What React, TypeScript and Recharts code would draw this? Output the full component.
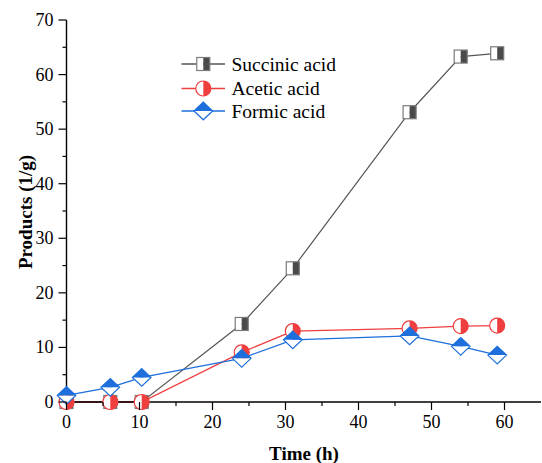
import React from 'react';
import { LineChart, Line, XAxis, YAxis, Legend } from 'recharts';

// ---- data ----
const timeH = [0, 6, 10.3, 24, 31, 47, 54, 59];
const succinicAcid = [0, 0, 0, 14.3, 24.5, 53.1, 63.3, 63.9];
const aceticAcid = [0, 0, 0, 9.1, 13.0, 13.5, 13.9, 14.0];
const formicAcid = [1.2, 2.7, 4.5, 8.0, 11.4, 12.1, 10.2, 8.6];

const xTicks = [0, 5, 10, 15, 20, 25, 30, 35, 40, 45, 50, 55, 60];
const yTicks = [0, 5, 10, 15, 20, 25, 30, 35, 40, 45, 50, 55, 60, 65, 70];
const mirrorTicks = [1, 2, 3, 4, 5, 6, 7, 8, 9];

const seriesNames = ['Succinic acid', 'Acetic acid', 'Formic acid'];

const succData = timeH.map((x, i) => ({ x, y: succinicAcid[i] }));
const aceData = timeH.map((x, i) => ({ x, y: aceticAcid[i] }));
const forData = timeH.map((x, i) => ({ x, y: formicAcid[i] }));

// ---- styles ----
const FONT = '"Liberation Serif", "Times New Roman", serif';
const AX = '#000';
const GRAY_LINE = '#555555';
const GRAY_FILL = '#4a4a4a';
const GRAY_EDGE = '#7a7a7a';
const RED = '#ef3e3e';
const BLUE = '#1e6fdc';

function SquareMark({ cx, cy }: { cx: number; cy: number }) {
  const s = 13;
  return (
    <g>
      <rect x={cx - s / 2} y={cy - s / 2} width={s / 2} height={s} fill="#fff" />
      <rect x={cx} y={cy - s / 2} width={s / 2} height={s} fill={GRAY_FILL} />
      <rect x={cx - s / 2} y={cy - s / 2} width={s} height={s} fill="none" stroke={GRAY_EDGE} strokeWidth={1.2} />
    </g>
  );
}

function CircleMark({ cx, cy }: { cx: number; cy: number }) {
  const r = 7.5;
  return (
    <g>
      <circle cx={cx} cy={cy} r={r} fill="#fff" />
      <path d={`M ${cx} ${cy - r} A ${r} ${r} 0 0 1 ${cx} ${cy + r} Z`} fill={RED} />
      <circle cx={cx} cy={cy} r={r} fill="none" stroke={RED} strokeWidth={1.2} />
    </g>
  );
}

function DiamondMark({ cx, cy }: { cx: number; cy: number }) {
  const w = 9.3;
  const h = 8.8;
  return (
    <g>
      <path d={`M ${cx - w} ${cy} L ${cx} ${cy + h} L ${cx + w} ${cy} Z`} fill="#fff" />
      <path d={`M ${cx - w} ${cy} L ${cx} ${cy - h} L ${cx + w} ${cy} Z`} fill={BLUE} />
      <path d={`M ${cx - w} ${cy} L ${cx} ${cy - h} L ${cx + w} ${cy} L ${cx} ${cy + h} Z`} fill="none" stroke={BLUE} strokeWidth={1.2} />
    </g>
  );
}

function BottomTick(props: any) {
  const { x, y, payload } = props;
  const v = payload.value;
  const major = v % 10 === 0;
  return (
    <g>
      <line x1={x} x2={x} y1={y} y2={y + (major ? 8 : 4)} stroke={AX} strokeWidth={1.2} />
      {major && (
        <text x={x} y={y + 26} textAnchor="middle" fontSize={18} fontFamily={FONT} fill="#000">
          {v}
        </text>
      )}
    </g>
  );
}

function LeftTick(props: any) {
  const { x, y, payload } = props;
  const v = payload.value;
  const major = v % 10 === 0;
  return (
    <g>
      <line x1={x - (major ? 8 : 4)} x2={x} y1={y} y2={y} stroke={AX} strokeWidth={1.2} />
      {major && (
        <text x={x - 13} y={y + 6} textAnchor="end" fontSize={18} fontFamily={FONT} fill="#000">
          {v}
        </text>
      )}
    </g>
  );
}

function TopTick(props: any) {
  const { x, y, payload } = props;
  const major = payload.value % 2 === 0;
  return <line x1={x} x2={x} y1={y} y2={y + (major ? 7 : 3.5)} stroke={AX} strokeWidth={1.2} />;
}

function RightTick(props: any) {
  const { x, y, payload } = props;
  const major = payload.value % 2 === 0;
  return <line x1={x - (major ? 7 : 3.5)} x2={x} y1={y} y2={y} stroke={AX} strokeWidth={1.2} />;
}

function LegendBox() {
  const rows = [
    { name: seriesNames[0], color: GRAY_LINE, Mark: SquareMark, y: 14 },
    { name: seriesNames[1], color: RED, Mark: CircleMark, y: 38.5 },
    { name: seriesNames[2], color: BLUE, Mark: DiamondMark, y: 61 },
  ];
  return (
    <svg width={200} height={80} style={{ display: 'block', overflow: 'visible' }}>
      {rows.map((r) => (
        <g key={r.name}>
          <line x1={1.5} x2={45} y1={r.y} y2={r.y} stroke={r.color} strokeWidth={1.3} />
          <r.Mark cx={23.3} cy={r.y} />
          <text x={51.5} y={r.y + 6.5} fontSize={19.5} fontFamily={FONT} fill="#000">
            {r.name}
          </text>
        </g>
      ))}
    </svg>
  );
}

export default function App() {
  return (
    <div style={{ position: 'absolute', left: 0, top: 0 }}>
      <LineChart width={542} height={463} margin={{ top: 20, right: 1, bottom: 0, left: 0 }}>
        <XAxis
          xAxisId="b"
          dataKey="x"
          type="number"
          domain={[0, 65]}
          ticks={xTicks}
          interval={0}
          height={61}
          tickSize={0}
          tickMargin={0}
          tickLine={false}
          axisLine={{ stroke: AX, strokeWidth: 1.4 }}
          tick={BottomTick}
          label={{
            content: () => (
              <text x={304} y={460} textAnchor="middle" fontSize={19} fontWeight="bold" fontFamily={FONT} fill="#000">
                Time (h)
              </text>
            ),
          }}
        />
        <XAxis
          xAxisId="t"
          orientation="top"
          type="number"
          domain={[0, 10]}
          ticks={mirrorTicks}
          interval={0}
          height={0}
          tickSize={0}
          tickMargin={0}
          tickLine={false}
          axisLine={{ stroke: AX, strokeWidth: 1.4 }}
          tick={TopTick}
        />
        <YAxis
          yAxisId="l"
          type="number"
          domain={[0, 70]}
          ticks={yTicks}
          interval={0}
          width={66.5}
          tickSize={0}
          tickMargin={0}
          tickLine={false}
          axisLine={{ stroke: AX, strokeWidth: 1.4 }}
          tick={LeftTick}
          label={{
            content: () => (
              <text
                x={31.5}
                y={212}
                transform="rotate(-90 31.5 212)"
                textAnchor="middle"
                fontSize={19}
                fontWeight="bold"
                fontFamily={FONT}
                fill="#000"
              >
                Products (1/g)
              </text>
            ),
          }}
        />
        <YAxis
          yAxisId="r"
          orientation="right"
          type="number"
          domain={[0, 10]}
          ticks={mirrorTicks}
          interval={0}
          width={0}
          tickSize={0}
          tickMargin={0}
          tickLine={false}
          axisLine={{ stroke: AX, strokeWidth: 1.4 }}
          tick={RightTick}
        />
        <Legend
          layout="vertical"
          align="center"
          verticalAlign="middle"
          content={() => <LegendBox />}
          wrapperStyle={{ position: 'absolute', left: 180, top: 50, width: 200, height: 80 }}
        />
        <Line
          data={succData}
          dataKey="y"
          xAxisId="b"
          yAxisId="l"
          stroke={GRAY_LINE}
          strokeWidth={1.2}
          isAnimationActive={false}
          activeDot={false}
          dot={(p: any) => <SquareMark key={`s${p.index}`} cx={p.cx} cy={p.cy} />}
        />
        <Line
          data={aceData}
          dataKey="y"
          xAxisId="b"
          yAxisId="l"
          stroke={RED}
          strokeWidth={1.3}
          isAnimationActive={false}
          activeDot={false}
          dot={(p: any) => <CircleMark key={`a${p.index}`} cx={p.cx} cy={p.cy} />}
        />
        <Line
          data={forData}
          dataKey="y"
          xAxisId="b"
          yAxisId="l"
          stroke={BLUE}
          strokeWidth={1.3}
          isAnimationActive={false}
          activeDot={false}
          dot={(p: any) => <DiamondMark key={`f${p.index}`} cx={p.cx} cy={p.cy} />}
        />
      </LineChart>
    </div>
  );
}
